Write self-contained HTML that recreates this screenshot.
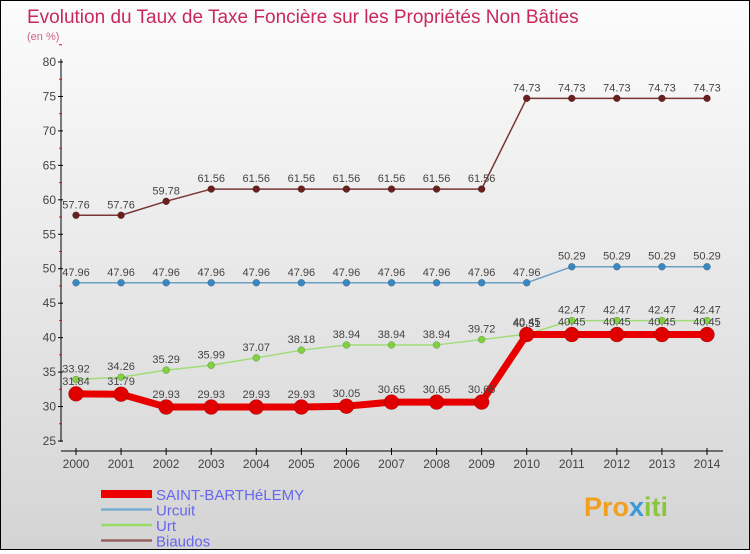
<!DOCTYPE html>
<html><head><meta charset="utf-8">
<style>
html,body{margin:0;padding:0}
body{width:750px;height:550px;overflow:hidden;font-family:"Liberation Sans",sans-serif}
#wrap{position:relative;width:748px;height:548px;border:1px solid #000;background:linear-gradient(#fcfcfc,#d4d4d4)}
svg text{font-family:"Liberation Sans",sans-serif}
</style></head>
<body>
<div id="wrap">
<svg id="chart" width="748" height="548">
<text x="26" y="22" font-size="19" fill="#c8285a">Evolution du Taux de Taxe Foncière sur les Propriétés Non Bâties</text>
<text x="26" y="39" font-size="11" fill="#c8648a">(en %)</text>
<g id="axes"></g>
<g id="series"></g>
<g id="legend"></g>
<text x="583" y="515" font-size="27" font-weight="bold" fill="#f0a020">Pro<tspan fill="#3a9ad9">x</tspan><tspan fill="#8cc63f">iti</tspan></text>
</svg>
</div>
<script>
const years=[2000,2001,2002,2003,2004,2005,2006,2007,2008,2009,2010,2011,2012,2013,2014];
const yTicks=[25,30,35,40,45,50,55,60,65,70,75,80];
const saintBarth=[31.84,31.79,29.93,29.93,29.93,29.93,30.05,30.65,30.65,30.65,40.45,40.45,40.45,40.45,40.45];
const urcuit=[47.96,47.96,47.96,47.96,47.96,47.96,47.96,47.96,47.96,47.96,47.96,50.29,50.29,50.29,50.29];
const urt=[33.92,34.26,35.29,35.99,37.07,38.18,38.94,38.94,38.94,39.72,40.51,42.47,42.47,42.47,42.47];
const biaudos=[57.76,57.76,59.78,61.56,61.56,61.56,61.56,61.56,61.56,61.56,74.73,74.73,74.73,74.73,74.73];
const seriesNames=["SAINT-BARTHéLEMY","Urcuit","Urt","Biaudos"];

const NS="http://www.w3.org/2000/svg";
function X(i){return 75+i*(706-75)/(years.length-1);}
function Y(v){return 440-(v-25)*(440-61)/55;}
function mk(tag,attrs,parent){const e=document.createElementNS(NS,tag);for(const k in attrs)e.setAttribute(k,attrs[k]);parent.appendChild(e);return e;}
const axes=document.getElementById('axes'),ser=document.getElementById('series'),leg=document.getElementById('legend');

let a=mk('line',{x1:60,y1:58,x2:60,y2:441,stroke:'#000','stroke-width':1},axes);


yTicks.forEach(t=>{
  mk('line',{x1:57,x2:62,y1:Y(t),y2:Y(t),stroke:'#000'},axes);
  mk('line',{x1:58,x2:61,y1:Y(t+2.5),y2:Y(t+2.5),stroke:'#f00'},axes);
  const tx=mk('text',{x:55,y:Y(t)+4,'font-size':12,fill:'#444','text-anchor':'end'},axes);
  tx.textContent=t;
  
  
});
let xa=mk('line',{x1:60,y1:450,x2:722,y2:450,stroke:'#000'},axes);


years.forEach((y,i)=>{
  mk('line',{x1:X(i),x2:X(i),y1:447,y2:454,stroke:'#000'},axes);
  const tx=mk('text',{x:X(i),y:467,'font-size':12,fill:'#444','text-anchor':'middle'},axes);
  tx.textContent=y;
  
  
});

function draw(data,name,color,dot,w,r,above){
  const g=mk('g',{},ser);
  
  
  mk('polyline',{points:data.map((v,i)=>X(i)+','+Y(v)).join(' '),fill:'none',stroke:color,'stroke-width':w,'stroke-linejoin':'round'},g);
  data.forEach((v,i)=>{
    const c=mk('circle',{cx:X(i),cy:Y(v),r:r,fill:dot,stroke:'rgba(0,0,0,0.3)','stroke-width':0.5},g);
    
    
    const t=mk('text',{x:X(i),y:Y(v)+(above?-7:-9),'font-size':11,fill:'#444','text-anchor':'middle'},g);
    t.textContent=v.toFixed(2).replace(/0$/,'').replace(/\.0$/,'');
    
    
  });
}
draw(biaudos,'series-biaudos','#7a3535','#6a1f1f',1.5,3.5,true);
draw(urcuit,'series-urcuit','#6aa0c8','#3a88c0',1.5,3.5,true);
draw(urt,'series-urt','#a0dc78','#80d040',1.5,3.5,true);
draw(saintBarth,'series-saint-barthelemy','#e80000','#e00000',7,7.5,false);

const lc=['#ee0000','#7aaed0','#99dd66','#9a6060'],lw=[8,2.5,2.5,2.5];
seriesNames.forEach((n,i)=>{
  const y=493+i*15.5;
  const g=mk('g',{},leg);
  
  
  mk('line',{x1:100,x2:151,y1:y,y2:y,stroke:lc[i],'stroke-width':lw[i]},g);
  const t=mk('text',{x:155,y:y+6,'font-size':15,fill:'#6666ee'},g);
  t.textContent=n;
});
</script>
</body></html>
